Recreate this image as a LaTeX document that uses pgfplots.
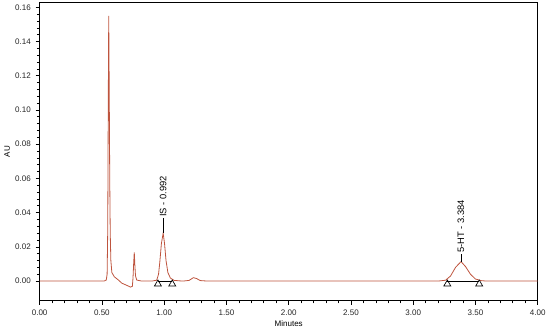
\documentclass[border=0pt]{standalone}
\usepackage{fontspec}
\setmainfont{Liberation Sans}
\usepackage{pgfplots}
\pgfplotsset{compat=1.18}
\definecolor{trace}{RGB}{190,84,62}
\begin{document}
\begin{tikzpicture}
\begin{axis}[
    scale only axis,
    width=372pt, height=223pt,
    xmin=0, xmax=4, ymin=-0.0115, ymax=0.163,
    xtick={0,0.5,...,4}, ytick={0,0.02,...,0.16},
    minor x tick num=4, minor y tick num=4,
    tick align=outside, xtick pos=bottom, ytick pos=left,
    major tick length=3pt, minor tick length=2pt,
    tick style={black, line width=0.5pt},
    axis line style={line width=0.6pt},
    ticklabel style={font=\fontsize{6}{7}\selectfont, text=black!85},
    /pgf/number format/assume math mode=true,
    xticklabel={\pgfmathprintnumber[fixed,fixed zerofill,precision=2]{\tick}},
    yticklabel={\pgfmathprintnumber[fixed,fixed zerofill,precision=2]{\tick}},
    scaled y ticks=false,
    xlabel={Minutes}, ylabel={AU},
    label style={font=\fontsize{6}{7}\selectfont},
    xlabel style={yshift=3pt},
    ylabel style={yshift=-3pt},
    clip=false,
]
\addplot[trace, line width=0.6pt] coordinates {
(0.00,0.0000) (0.20,0.0001) (0.40,0.0000) (0.52,0.0001) (0.535,0.0006)
(0.542,0.004) (0.547,0.030) (0.551,0.100) (0.555,0.155) (0.559,0.110)
(0.563,0.060) (0.567,0.028) (0.572,0.012) (0.58,0.005) (0.60,0.0025)
(0.63,0.0008) (0.66,-0.0012) (0.70,-0.0025) (0.73,-0.0035) (0.745,-0.0030)
(0.750,0.002) (0.755,0.010) (0.760,0.0168) (0.765,0.009) (0.770,0.003)
(0.78,0.0006) (0.82,0.0000) (0.90,0.0000) (0.94,0.0005) (0.955,0.004)
(0.965,0.011) (0.978,0.022) (0.992,0.0280) (1.003,0.022) (1.015,0.012)
(1.03,0.005) (1.05,0.0018) (1.08,0.0004) (1.15,0.0000) (1.20,0.0004)
(1.235,0.0020) (1.26,0.0015) (1.29,0.0003) (1.35,0.0000) (2.00,0.0000)
(2.80,0.0001) (3.20,0.0000) (3.26,0.0005) (3.30,0.0030) (3.34,0.0080)
(3.384,0.0114) (3.42,0.0085) (3.46,0.0040) (3.50,0.0012) (3.55,0.0002)
(3.60,0.0000) (3.75,0.0001) (4.00,0.0000)
};
\addplot[black, line width=0.5pt] coordinates {(0.95,0) (1.065,0)};
\addplot[black, line width=0.5pt] coordinates {(3.274,0) (3.53,0)};
\addplot[black, only marks, mark=triangle, mark size=3pt, mark options={line width=0.5pt}]
  coordinates {(0.95,-0.0017) (1.065,-0.0017) (3.274,-0.0017) (3.53,-0.0017)};
\addplot[black, line width=0.6pt] coordinates {(0.992,0.028) (0.992,0.037)};
\addplot[black, line width=0.6pt] coordinates {(3.384,0.0114) (3.384,0.016)};
\node[rotate=90, anchor=west, inner sep=0.5pt, font=\fontsize{7}{8}\selectfont] at (axis cs:0.992,0.037) {IS - 0.992};
\node[rotate=90, anchor=west, inner sep=0.5pt, font=\fontsize{7}{8}\selectfont] at (axis cs:3.384,0.016) {5-HT - 3.384};
\end{axis}
\end{tikzpicture}
\end{document}
